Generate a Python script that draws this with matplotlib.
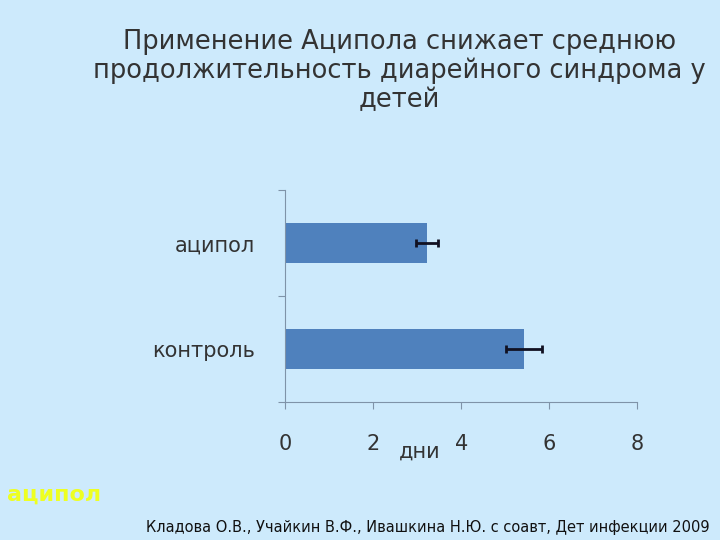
import matplotlib
matplotlib.use("Agg")
import matplotlib.pyplot as plt

categories = ["контроль", "аципол"]
values = [5.43, 3.22]
errors = [0.40, 0.25]
xticks = [0, 2, 4, 6, 8]

bg = "#cdeafc"
fig = plt.figure(figsize=(7.2, 5.4), dpi=100, facecolor=bg)
ax = fig.add_axes([0.396, 0.255, 0.489, 0.393], facecolor=bg)
ax.barh(range(len(categories)), values, height=0.38, color="#4f81bd",
        xerr=errors, error_kw=dict(ecolor="#111122", elinewidth=2, capsize=3, capthick=2))
ax.set_xlim(0, 8)
ax.set_ylim(-0.5, 1.5)
ax.set_xticks(xticks)
ax.set_xticklabels([str(t) for t in xticks], fontsize=15, color="#333333")
ax.set_yticks([-0.5, 0.5, 1.5], minor=False)
ax.set_yticklabels([])
ax.set_yticks([0, 1], minor=True)
ax.set_yticklabels(categories, minor=True, fontsize=15, color="#333333")
ax.tick_params(axis="y", which="minor", length=0, pad=22)
ax.tick_params(axis="y", which="major", length=5, color="#7f93a8", direction="out")
ax.tick_params(axis="x", length=5, color="#7f93a8", pad=18)
for s in ["top", "right"]:
    ax.spines[s].set_visible(False)
for s in ["left", "bottom"]:
    ax.spines[s].set_color("#7f93a8")
fig.text(420 / 720, 1 - 452 / 540, "дни", fontsize=15, color="#333333", ha="center", va="center")

fig.text(0.555, 0.79, "Применение Аципола снижает среднюю\nпродолжительность диарейного синдрома у\nдетей",
         ha="center", va="bottom", fontsize=18.5, color="#333333", linespacing=1.15)
fig.text(0.01, 0.072, "аципол", fontsize=16, color="#eeff22", fontweight="bold", ha="left")
fig.text(0.985, 0.015, "Кладова О.В., Учайкин В.Ф., Ивашкина Н.Ю. с соавт, Дет инфекции 2009",
         ha="right", fontsize=10.5, color="#111111")
fig.savefig("out.png", dpi=100, facecolor=bg)
